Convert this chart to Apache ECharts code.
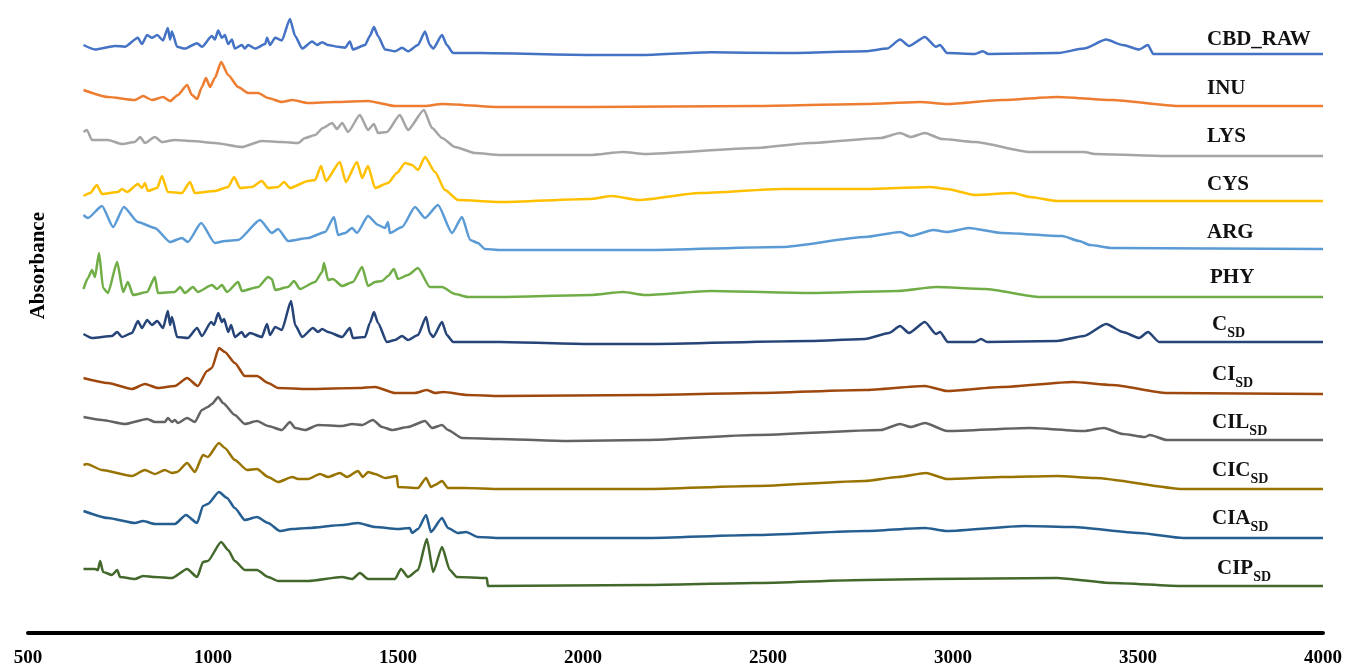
<!DOCTYPE html>
<html><head><meta charset="utf-8">
<script src="https://cdn.jsdelivr.net/npm/echarts@6/dist/echarts.min.js"></script>
<style>html,body{margin:0;padding:0;background:#fff}#c{width:1349px;height:670px}</style>
</head><body><div id="c"></div>
<script>
// ---------- DATA ----------
const xTicks = [500, 1000, 1500, 2000, 2500, 3000, 3500, 4000];
const seriesNames = ['CBD_RAW', 'INU', 'LYS', 'CYS', 'ARG', 'PHY', 'C_SD', 'CI_SD', 'CIL_SD', 'CIC_SD', 'CIA_SD', 'CIP_SD'];
const labelMain = ['CBD_RAW', 'INU', 'LYS', 'CYS', 'ARG', 'PHY', 'C', 'CI', 'CIL', 'CIC', 'CIA', 'CIP'];
const labelSub = ['', '', '', '', '', '', 'SD', 'SD', 'SD', 'SD', 'SD', 'SD'];
const yAxisTitle = 'Absorbance';

// [wavenumber (cm-1), absorbance above the spectrum's own baseline (arbitrary units)]
const cbdRaw = [[650,10],[681,5],[735,9],[762,8],[797,18],[808,11],[822,21],[835,18],[849,21],[865,15],[878,29],[884,16],[889,25],[903,8],[924,6],[957,12],[970,8],[997,20],[1005,16],[1014,26],[1024,18],[1032,21],[1041,11],[1051,16],[1059,6],[1078,10],[1086,6],[1095,10],[1114,6],[1141,11],[1146,18],[1154,10],[1168,18],[1186,15],[1208,39],[1222,20],[1241,6],[1268,14],[1281,10],[1295,13],[1311,10],[1338,8],[1357,7],[1370,14],[1378,5],[1411,10],[1424,20],[1435,30],[1446,20],[1465,5],[1492,3],[1511,7],[1527,3],[1554,10],[1573,25],[1586,10],[1595,6],[1619,21],[1632,10],[1649,1],[1722,1],[2019,-1],[2168,-1],[2346,2],[2538,1],[2762,3],[2822,6],[2857,16],[2881,9],[2924,19],[2954,8],[2965,10],[2984,1],[3059,0],[3081,3],[3095,0],[3281,1],[3354,6],[3414,16],[3459,10],[3503,5],[3527,10],[3541,0],[4000,0]];
const inu = [[650,16],[716,9],[789,6],[811,10],[835,6],[865,9],[884,5],[905,11],[930,21],[943,11],[957,7],[970,19],[981,28],[992,19],[1005,28],[1022,44],[1041,31],[1068,19],[1095,13],[1122,13],[1149,8],[1186,4],[1214,6],[1257,3],[1330,4],[1419,5],[1492,0],[1573,0],[1619,2],[1776,-1],[2019,-1],[2465,0],[2762,2],[2911,4],[2984,2],[3132,6],[3281,9],[3430,6],[3608,0],[4000,0]];
const lys = [[650,25],[659,27],[673,17],[716,17],[754,13],[789,15],[803,20],[816,14],[843,20],[862,15],[897,17],[943,16],[1005,14],[1078,10],[1132,16],[1186,15],[1230,14],[1249,19],[1276,22],[1297,29],[1322,34],[1335,28],[1349,34],[1365,25],[1397,42],[1419,27],[1435,33],[1446,24],[1470,25],[1505,42],[1527,27],[1570,47],[1592,29],[1619,19],[1654,10],[1708,4],[1776,2],[2019,2],[2108,5],[2168,3],[2465,9],[2614,14],[2805,19],[2857,24],[2886,20],[2924,24],[2970,18],[3059,15],[3208,5],[3354,5],[3384,3],[3578,1],[4000,1]];
const cys = [[650,6],[668,9],[686,17],[700,8],[743,10],[754,13],[768,10],[797,18],[808,14],[816,19],[824,11],[849,14],[862,26],[878,10],[916,9],[938,20],[951,9],[1005,11],[1041,15],[1057,25],[1073,14],[1105,15],[1132,21],[1149,14],[1176,15],[1192,20],[1208,14],[1257,21],[1276,22],[1292,36],[1305,21],[1343,40],[1359,20],[1389,40],[1403,24],[1419,36],[1438,14],[1473,19],[1497,29],[1519,39],[1538,37],[1554,32],[1573,45],[1600,30],[1627,12],[1662,2],[1776,0],[2019,3],[2078,6],[2151,2],[2316,9],[2538,13],[2762,13],[2938,15],[2984,13],[3059,7],[3162,9],[3208,5],[3281,1],[4000,1]];
const arg = [[650,34],[662,31],[700,43],[730,22],[759,42],[797,27],[843,21],[884,7],[916,11],[932,7],[968,26],[1005,6],[1032,8],[1068,9],[1127,29],[1159,16],[1176,20],[1203,8],[1257,11],[1303,17],[1327,32],[1338,14],[1357,16],[1376,21],[1389,16],[1419,33],[1446,24],[1465,21],[1473,27],[1478,16],[1511,22],[1546,42],[1573,31],[1608,44],[1646,16],[1673,32],[1695,9],[1716,6],[1735,0],[1776,-1],[2019,-1],[2168,-1],[2538,2],[2762,12],[2857,17],[2886,13],[2946,19],[2984,17],[3043,21],[3132,16],[3295,13],[3341,8],[3370,4],[3430,1],[4000,0]];
const phy = [[650,8],[662,19],[673,27],[681,20],[692,44],[703,9],[716,4],[741,35],[757,5],[770,15],[784,2],[822,5],[843,20],[851,4],[897,5],[911,10],[924,4],[946,10],[959,5],[997,12],[1011,8],[1024,12],[1038,5],[1068,15],[1078,6],[1122,10],[1149,20],[1159,18],[1168,7],[1203,10],[1219,16],[1235,8],[1276,15],[1295,25],[1300,34],[1311,17],[1324,18],[1349,11],[1378,15],[1403,30],[1419,11],[1438,15],[1457,16],[1473,21],[1489,28],[1500,18],[1527,22],[1554,29],[1586,10],[1619,10],[1654,3],[1689,0],[1776,0],[2019,2],[2108,5],[2168,2],[2346,6],[2614,4],[2851,6],[2954,10],[3086,8],[3235,0],[4000,0]];
const cSd = [[650,8],[673,4],[727,6],[741,10],[754,5],[781,9],[797,21],[808,14],[822,22],[835,17],[849,21],[865,14],[878,31],[884,17],[889,25],[903,5],[932,4],[957,14],[970,6],[995,20],[1003,17],[1014,29],[1024,20],[1030,23],[1041,10],[1049,17],[1059,5],[1078,10],[1086,5],[1100,9],[1132,5],[1146,18],[1154,7],[1168,15],[1186,12],[1211,41],[1222,17],[1241,5],[1270,14],[1284,10],[1295,13],[1311,10],[1349,5],[1370,14],[1378,4],[1411,5],[1424,19],[1435,30],[1446,19],[1470,0],[1492,2],[1511,6],[1527,2],[1554,7],[1576,25],[1586,9],[1595,5],[1619,20],[1632,7],[1649,0],[1776,0],[2019,-2],[2168,-2],[2614,1],[2762,3],[2827,9],[2857,16],[2881,9],[2924,20],[2954,8],[2965,10],[2986,0],[3059,0],[3076,3],[3092,0],[3281,1],[3354,6],[3414,18],[3459,10],[3503,4],[3527,10],[3557,0],[4000,0]];
const ciSd = [[650,16],[716,11],[781,5],[816,10],[851,6],[897,8],[930,16],[959,8],[984,23],[997,26],[1016,46],[1032,42],[1059,31],[1086,18],[1119,18],[1149,11],[1176,6],[1257,5],[1392,6],[1438,7],[1492,1],[1546,1],[1578,4],[1600,1],[1622,2],[1689,-1],[1776,-2],[2168,-1],[2465,1],[2762,4],[2924,8],[2984,3],[3132,7],[3324,12],[3430,9],[3578,1],[4000,0]];
const cilSd = [[650,23],[700,20],[762,16],[822,21],[843,18],[870,18],[878,22],[889,18],[897,20],[905,17],[930,22],[951,18],[970,30],[986,33],[997,36],[1014,43],[1027,37],[1059,25],[1086,16],[1119,19],[1149,14],[1186,10],[1208,18],[1222,12],[1249,10],[1284,15],[1349,14],[1376,16],[1403,15],[1432,20],[1457,13],[1484,10],[1527,13],[1573,19],[1592,12],[1619,15],[1635,10],[1673,2],[1776,1],[1959,-1],[2168,0],[2465,5],[2805,10],[2857,16],[2886,13],[2924,17],[2984,9],[3208,12],[3354,9],[3408,12],[3459,6],[3519,3],[3532,5],[3578,0],[4000,0]];
const cicSd = [[650,24],[659,25],[700,19],[781,13],[816,19],[843,15],[870,19],[889,16],[903,17],[930,26],[951,17],[973,34],[986,32],[1016,46],[1032,41],[1059,29],[1092,19],[1119,20],[1149,12],[1176,7],[1214,12],[1230,10],[1257,10],[1289,15],[1311,12],[1343,16],[1362,12],[1392,18],[1405,12],[1419,17],[1438,15],[1465,11],[1497,13],[1500,2],[1554,1],[1576,11],[1589,2],[1600,4],[1619,8],[1635,1],[1681,1],[1776,0],[2168,0],[2465,3],[2762,8],[2851,12],[2927,16],[2984,10],[3132,12],[3281,13],[3384,11],[3622,0],[4000,0]];
const ciaSd = [[650,27],[716,20],[789,15],[811,17],[843,14],[897,14],[927,23],[957,15],[973,32],[986,34],[1016,46],[1038,40],[1059,30],[1086,18],[1119,21],[1149,15],[1181,7],[1214,9],[1257,10],[1349,13],[1392,15],[1438,11],[1500,9],[1532,10],[1538,5],[1554,9],[1576,23],[1589,6],[1619,20],[1635,10],[1662,5],[1684,6],[1716,1],[1776,0],[2168,0],[2465,3],[2762,7],[2924,10],[2984,7],[3192,12],[3324,11],[3503,5],[3622,0],[4000,0]];
const cipSd = [[650,17],[681,17],[689,16],[695,25],[703,14],[727,11],[741,16],[749,9],[789,7],[811,10],[843,9],[889,8],[930,17],[957,9],[973,24],[986,25],[1022,44],[1041,36],[1059,25],[1086,16],[1119,16],[1149,9],[1176,5],[1257,5],[1349,9],[1376,7],[1397,13],[1419,7],[1492,7],[1508,17],[1527,9],[1554,16],[1578,47],[1595,14],[1619,39],[1640,16],[1659,9],[1740,8],[1743,0],[2168,1],[2465,3],[2762,6],[2938,7],[3281,8],[3430,3],[3622,0],[4000,0]];

const spectra = [cbdRaw, inu, lys, cys, arg, phy, cSd, ciSd, cilSd, cicSd, ciaSd, cipSd];

// ---------- LAYOUT / STYLE ----------
const colors = ['#4472C4', '#ED7D31', '#A5A5A5', '#FFC000', '#5B9BD5', '#70AD47', '#264478', '#9E480E', '#636363', '#997300', '#255E91', '#43682B'];
const baselines = [53, 106, 157, 202, 249, 297, 342, 394, 440, 489, 538, 586];
const labelPos = [[1207,42],[1207,91],[1207,139],[1207,187],[1207,235],[1210,280],[1212,327],[1212,377],[1212,425],[1212,473],[1212,521],[1217,571]];
const FONT = "'Liberation Serif', 'Times New Roman', serif";
const LEFT = 28, RIGHT = 26, ABOVE = 60, BELOW = 10;

const grid = [], xAxis = [], yAxis = [], series = [], graphic = [];
spectra.forEach((data, i) => {
  grid.push({ left: LEFT, right: RIGHT, top: baselines[i] - ABOVE, height: ABOVE + BELOW });
  xAxis.push({ type: 'value', gridIndex: i, min: xTicks[0], max: xTicks[xTicks.length - 1], show: false });
  yAxis.push({ type: 'value', gridIndex: i, min: -BELOW, max: ABOVE, show: false });
  series.push({
    name: seriesNames[i], type: 'line', xAxisIndex: i, yAxisIndex: i, data: data,
    showSymbol: false, symbol: 'none', smooth: 0.2, smoothMonotone: 'x',
    lineStyle: { color: colors[i], width: 2.5, join: 'round' },
    itemStyle: { color: colors[i] }, animation: false, z: 2
  });
  const txt = labelSub[i] ? '{m|' + labelMain[i] + '}{s|' + labelSub[i] + '}' : '{m|' + labelMain[i] + '}';
  graphic.push({
    type: 'text', left: labelPos[i][0], top: labelPos[i][1] - 13,
    style: {
      text: txt, fill: '#111',
      rich: {
        m: { fontFamily: FONT, fontWeight: 'bold', fontSize: 21, lineHeight: 26, fill: '#111', verticalAlign: 'bottom' },
        s: { fontFamily: FONT, fontWeight: 'bold', fontSize: 14, lineHeight: 20, fill: '#111', verticalAlign: 'bottom', padding: [0, 0, -5, 0] }
      }
    }
  });
});
// bottom wavenumber axis
const n = spectra.length;
grid.push({ left: LEFT, right: RIGHT, top: 600, height: 33 });
xAxis.push({
  type: 'value', gridIndex: n, min: xTicks[0], max: xTicks[xTicks.length - 1], interval: xTicks[1] - xTicks[0],
  axisLine: { show: true, lineStyle: { color: '#000', width: 4 } },
  axisTick: { show: false }, splitLine: { show: false },
  axisLabel: { show: true, margin: 16, color: '#000', fontFamily: FONT, fontWeight: 'bold', fontSize: 19,
    showMinLabel: true, showMaxLabel: true, hideOverlap: false, formatter: v => String(v) }
});
yAxis.push({ type: 'value', gridIndex: n, show: false, min: 0, max: 1 });
graphic.push({
  type: 'text', left: 28, top: 212, rotation: Math.PI / 2,
  style: { text: yAxisTitle, fontFamily: FONT, fontWeight: 'bold', fontSize: 21, fill: '#000' }
});

const chart = echarts.init(document.getElementById('c'), null, { renderer: 'canvas' });
chart.setOption({ backgroundColor: '#fff', animation: false, grid, xAxis, yAxis, series, graphic });
</script></body></html>
